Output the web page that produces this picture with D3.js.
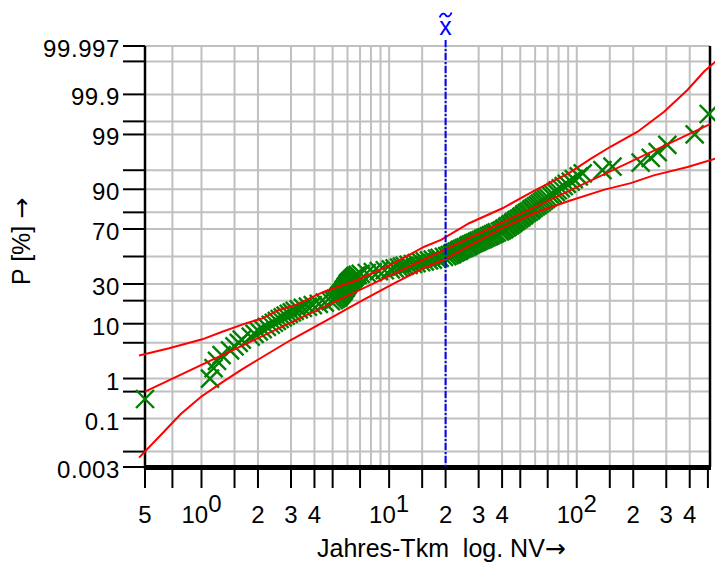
<!DOCTYPE html>
<meta charset="utf-8">
<title>Wahrscheinlichkeitsnetz Jahres-Tkm</title>
<head>
    <script src="https://d3js.org/d3.v7.min.js"></script>
</head>
<body style="margin: 0px; background: #fff">
<script>

    // Messwerte Jahres-Tkm (sortiert) und zugehoerige Summenhaeufigkeit P [%]
    var pointX = [0.5, 1.11, 1.16, 1.21, 1.28, 1.42, 1.5, 1.58, 1.64, 1.83,
        1.92, 2.02, 2.12, 2.23, 2.34, 2.43, 2.52, 2.61, 2.71, 2.81,
        2.92, 3.03, 3.14, 3.3, 3.47, 3.69, 3.92, 4.22, 4.54, 4.89,
        5.07, 5.2, 5.33, 5.39, 5.46, 5.53, 5.59, 5.66, 5.73, 5.73,
        5.8, 5.88, 5.88, 5.95, 6.02, 6.02, 6.1, 6.17, 6.25, 6.32,
        6.4, 6.48, 6.56, 6.64, 6.81, 7.06, 7.6, 8.19, 8.81, 9.48,
        10.2, 10.7, 11.3, 11.7, 12.1, 12.7, 13.4, 14.0, 14.8, 15.5,
        16.3, 17.1, 18.0, 18.6, 19.6, 20.4, 21.0, 21.6, 21.8, 22.4,
        22.9, 23.5, 23.8, 24.4, 25.0, 25.6, 26.3, 26.6, 27.2, 27.9,
        28.6, 29.3, 30.0, 30.8, 31.6, 32.3, 33.1, 34.0, 34.8, 35.7,
        36.6, 37.5, 38.9, 39.8, 40.8, 41.3, 42.4, 42.9, 44.0, 44.5,
        45.6, 46.2, 47.3, 47.9, 49.1, 50.3, 50.9, 52.2, 52.8, 54.2,
        55.5, 56.9, 57.6, 59.0, 60.5, 62.0, 63.5, 65.1, 66.7, 68.4,
        70.1, 72.7, 74.5, 77.3, 79.2, 82.2, 85.3, 88.5, 92.9, 96.4,
        102.5, 107.6, 137, 155, 219, 248, 270, 304, 425, 505];
    var pointP = [0.33, 1.0, 1.67, 2.33, 3.0, 3.67, 4.33, 5.0, 5.67, 6.33,
        7.0, 7.67, 8.33, 9.0, 9.67, 10.33, 11.0, 11.67, 12.33, 13.0,
        13.67, 14.33, 15.0, 15.67, 16.33, 17.0, 17.67, 18.33, 19.0, 19.67,
        20.33, 21.0, 21.67, 22.33, 23.0, 23.67, 24.33, 25.0, 25.67, 26.33,
        27.0, 27.67, 28.33, 29.0, 29.67, 30.33, 31.0, 31.67, 32.33, 33.0,
        33.67, 34.33, 35.0, 35.67, 36.33, 37.0, 37.67, 38.33, 39.0, 39.67,
        40.33, 41.0, 41.67, 42.33, 43.0, 43.67, 44.33, 45.0, 45.67, 46.33,
        47.0, 47.67, 48.33, 49.0, 49.67, 50.33, 51.0, 51.67, 52.33, 53.0,
        53.67, 54.33, 55.0, 55.67, 56.33, 57.0, 57.67, 58.33, 59.0, 59.67,
        60.33, 61.0, 61.67, 62.33, 63.0, 63.67, 64.33, 65.0, 65.67, 66.33,
        67.0, 67.67, 68.33, 69.0, 69.67, 70.33, 71.0, 71.67, 72.33, 73.0,
        73.67, 74.33, 75.0, 75.67, 76.33, 77.0, 77.67, 78.33, 79.0, 79.67,
        80.33, 81.0, 81.67, 82.33, 83.0, 83.67, 84.33, 85.0, 85.67, 86.33,
        87.0, 87.67, 88.33, 89.0, 89.67, 90.33, 91.0, 91.67, 92.33, 93.0,
        93.67, 94.33, 95.0, 95.67, 96.33, 97.0, 97.67, 98.33, 99.0, 99.67];

    // Ausgleichsgerade (log. NV) und Vertrauensgrenzen
    var fitX = [0.5, 513];
    var fitP = [0.5, 99.42];
    var upperX = [0.465, 0.672, 1.01, 1.29, 1.72, 2.11, 2.59, 3.18, 4.5, 6.78, 10.2, 15.4,
        18.9, 26.7, 40.2, 60.5, 90.9, 119, 152, 211, 292, 389, 477, 550];
    var upperP = [2.95, 4.0, 5.72, 7.58, 10.1, 11.9, 15.4, 17.8, 25.1, 32.7, 43.6, 57.4,
        62.4, 73.7, 82.1, 89.8, 94.4, 96.9, 98.2, 99.13, 99.71, 99.925, 99.979, 99.990];
    var lowerX = [0.465, 0.607, 0.776, 0.991, 1.27, 1.62, 2.07, 2.99, 4.49, 6.81, 10.2,
        15.3, 20.0, 26.6, 40.3, 60.5, 90.7, 139, 194, 257, 390, 550];
    var lowerP = [0.0063, 0.0333, 0.134, 0.369, 0.79, 1.52, 2.65, 5.57, 10.6, 18.8, 29.3,
        41.3, 48.1, 57.9, 70.7, 79.9, 85.5, 89.8, 91.9, 93.9, 95.6, 96.9];

    var median = 20;

    // Achsen
    var xTicks = [0.5, 0.7, 1, 1.5, 2, 3, 4, 5, 7, 10, 15, 20, 30, 40, 50, 70, 100, 150, 200, 300, 400, 500];
    var xGrid = [0.7, 1, 1.5, 2, 3, 4, 5, 6, 7, 8, 9, 10, 15, 20, 30, 40, 50, 60, 70, 80, 90,
        100, 150, 200, 300, 400];
    var xLabelVals = [0.5, 1, 2, 3, 4, 10, 20, 30, 40, 100, 200, 300, 400];
    var xLabelMain = ["5", "10", "2", "3", "4", "10", "2", "3", "4", "10", "2", "3", "4"];
    var xLabelSup = ["", "0", "", "", "", "1", "", "", "", "2", "", "", ""];
    var yTicks = [0.003, 0.01, 0.1, 0.5, 1, 5, 10, 20, 30, 50, 70, 80, 90, 95, 99, 99.5, 99.9, 99.99, 99.997];
    var yLabels = ["0.003", "0.1", "1", "10", "30", "70", "90", "99", "99.9", "99.997"];

    var width = 715,
            height = 563,
            plotL = 145, plotR = 710, plotT = 46, plotB = 467;
    var font = "'Liberation Sans', Arial, sans-serif";

    // inverse Normalverteilung (Acklam)
    function probit(p) {
        var a = [-39.69683028665376, 220.9460984245205, -275.9285104469687, 138.3577518672690, -30.66479806614716, 2.506628277459239],
                b = [-54.47609879822406, 161.5858368580409, -155.6989798598866, 66.80131188771972, -13.28068155288572],
                c = [-0.007784894002430293, -0.3223964580411365, -2.400758277161838, -2.549732539343734, 4.374664141464968, 2.938163982698783],
                d = [0.007784695709041462, 0.3224671290700398, 2.445134137142996, 3.754408661907416];
        var q, r;
        if (p < 0.02425) {
            q = Math.sqrt(-2 * Math.log(p));
            return (((((c[0] * q + c[1]) * q + c[2]) * q + c[3]) * q + c[4]) * q + c[5]) /
                    ((((d[0] * q + d[1]) * q + d[2]) * q + d[3]) * q + 1);
        }
        if (p > 1 - 0.02425) return -probit(1 - p);
        q = p - 0.5;
        r = q * q;
        return (((((a[0] * r + a[1]) * r + a[2]) * r + a[3]) * r + a[4]) * r + a[5]) * q /
                (((((b[0] * r + b[1]) * r + b[2]) * r + b[3]) * r + b[4]) * r + 1);
    }

    var x = d3.scaleLog().domain([0.5, 513]).range([plotL, plotR]);
    var yz = d3.scaleLinear().domain([probit(0.00003), probit(0.99997)]).range([plotB, plotT]);
    function y(p) { return yz(probit(p / 100)); }

    var svg = d3.select("body").append("svg")
            .attr("width", width)
            .attr("height", height)
            .style("display", "block")
            .style("font-family", font);

    // Gitter
    svg.append("g").selectAll("line").data(xGrid).enter().append("line")
            .attr("x1", function (d) { return x(d); }).attr("x2", function (d) { return x(d); })
            .attr("y1", plotT).attr("y2", plotB)
            .attr("stroke", "#c0c0c0").attr("stroke-width", 2);
    svg.append("g").selectAll("line").data(yTicks).enter().append("line")
            .attr("x1", plotL).attr("x2", plotR)
            .attr("y1", function (d) { return y(d); }).attr("y2", function (d) { return y(d); })
            .attr("stroke", "#c0c0c0").attr("stroke-width", 2);

    // Rahmen
    svg.append("line").attr("x1", plotL).attr("x2", plotL).attr("y1", plotT).attr("y2", plotB + 2)
            .attr("stroke", "#000").attr("stroke-width", 2.5);
    svg.append("line").attr("x1", plotR).attr("x2", plotR).attr("y1", plotT).attr("y2", plotB)
            .attr("stroke", "#000").attr("stroke-width", 2.5);
    svg.append("line").attr("x1", plotL).attr("x2", plotR + 1).attr("y1", plotB + 0.5).attr("y2", plotB + 0.5)
            .attr("stroke", "#000").attr("stroke-width", 5);

    // y-Achse
    svg.append("g").selectAll("line").data(yTicks).enter().append("line")
            .attr("x1", 123).attr("x2", plotL)
            .attr("y1", function (d) { return y(d); }).attr("y2", function (d) { return y(d); })
            .attr("stroke", "#000").attr("stroke-width", 2);
    svg.append("g").selectAll("text").data(yLabels).enter().append("text")
            .attr("x", 120)
            .attr("y", function (d) { return y(+d) + 11; })
            .attr("text-anchor", "end")
            .style("font-size", "24px")
            .style("letter-spacing", "0.6px")
            .text(function (d) { return d; });
    var yt = svg.append("text")
            .attr("transform", "translate(30,285) rotate(-90)")
            .style("font-size", "25px");
    yt.append("tspan").text("P [%] ");
    yt.append("tspan").style("font-family", "'DejaVu Sans'").text("\u2192");

    // x-Achse
    svg.append("g").selectAll("line").data(xTicks).enter().append("line")
            .attr("x1", function (d) { return x(d); }).attr("x2", function (d) { return x(d); })
            .attr("y1", plotB).attr("y2", 488)
            .attr("stroke", "#000").attr("stroke-width", 2);
    var xl = svg.append("g").selectAll("text").data(xLabelVals).enter().append("text")
            .attr("x", function (d) { return x(d); })
            .attr("y", 523)
            .attr("text-anchor", "middle")
            .style("font-size", "24px");
    xl.append("tspan").text(function (d, i) { return xLabelMain[i]; });
    xl.append("tspan").attr("dy", -11).text(function (d, i) { return xLabelSup[i]; });
    var xt = svg.append("text")
            .attr("x", 317).attr("y", 557)
            .style("font-size", "25px")
            .style("white-space", "pre");
    xt.append("tspan").text("Jahres-Tkm  log. NV");
    xt.append("tspan").style("font-family", "'DejaVu Sans'").text("\u2192");

    // Messpunkte
    var points = d3.zip(pointX, pointP);
    svg.append("g").selectAll("path").data(points).enter().append("path")
            .attr("d", function (d) {
                var cx = x(d[0]), cy = y(d[1]);
                return "M" + (cx - 9) + "," + (cy - 9) + "L" + (cx + 9) + "," + (cy + 9) +
                        "M" + (cx - 9) + "," + (cy + 9) + "L" + (cx + 9) + "," + (cy - 9);
            })
            .attr("stroke", "#008000").attr("stroke-width", 2.4).attr("fill", "none");

    // Gerade und Vertrauensbereich
    var line = d3.line().x(function (d) { return x(d[0]); }).y(function (d) { return y(d[1]); });
    [d3.zip(fitX, fitP), d3.zip(upperX, upperP), d3.zip(lowerX, lowerP)].forEach(function (c) {
        svg.append("path").attr("d", line(c))
                .attr("fill", "none").attr("stroke", "#ff0000").attr("stroke-width", 2);
    });

    // Median
    var xm = x(median);
    svg.append("line")
            .attr("x1", xm).attr("x2", xm)
            .attr("y1", 40).attr("y2", plotB)
            .attr("stroke", "#0000ff").attr("stroke-width", 2)
            .attr("stroke-dasharray", "7,2,2,2");
    svg.append("text")
            .attr("x", xm).attr("y", 35)
            .attr("text-anchor", "middle")
            .attr("fill", "#0000ff")
            .style("font-size", "25px")
            .text("x");
    // Tilde ueber dem x
    svg.append("path")
            .attr("d", "M" + (xm - 6) + ",17.5 C" + (xm - 4) + ",12.5 " + (xm - 1) + ",13 " + xm + ",15" +
                    " S" + (xm + 4) + ",17.5 " + (xm + 6) + ",12.5")
            .attr("fill", "none").attr("stroke", "#0000ff").attr("stroke-width", 1.8);

</script>
